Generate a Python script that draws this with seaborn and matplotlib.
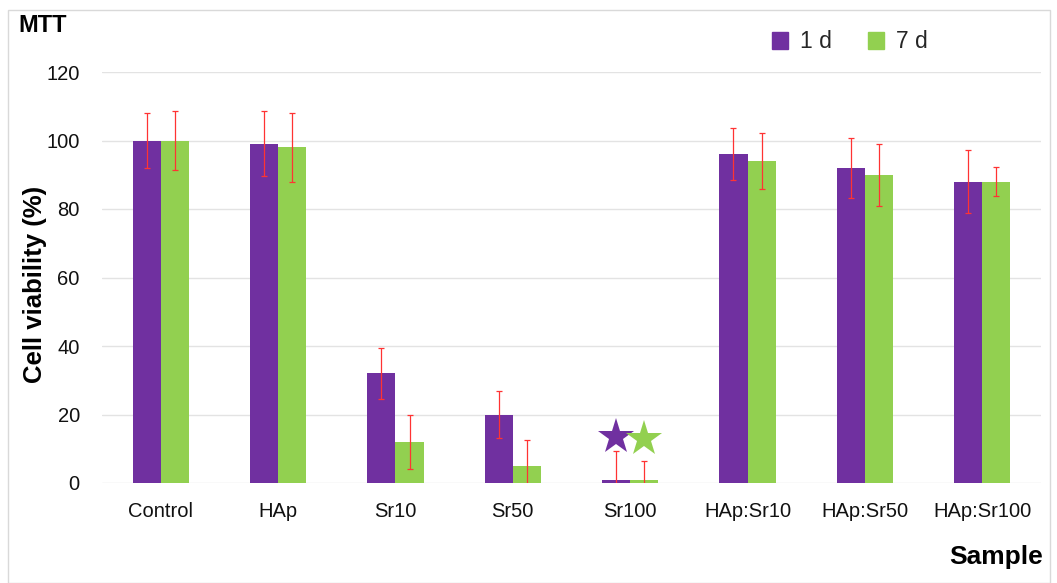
import matplotlib
matplotlib.use("Agg")
import matplotlib.pyplot as plt
import matplotlib.patches as mpatches
import seaborn as sns
import pandas as pd
import numpy as np

# Datos
samples = ["Control", "HAp", "Sr10", "Sr50", "Sr100", "HAp:Sr10", "HAp:Sr50", "HAp:Sr100"]
groups = ["1 d", "7 d"]
viab_1d = [100, 99, 32, 20, 1, 96, 92, 88]
viab_7d = [100, 98, 12, 5, 0.8, 94, 90, 88]
err_1d = [8.0, 9.5, 7.5, 7.0, 8.4, 7.6, 8.7, 9.3]
err_7d = [8.6, 10.0, 8.0, 7.5, 5.6, 8.2, 9.0, 4.3]
star_sample = "Sr100"
star_y = [13.4, 12.8]
colors = ["#7030A0", "#92D050"]

df = pd.DataFrame({
    "Sample": samples * 2,
    "Grupo": [groups[0]] * len(samples) + [groups[1]] * len(samples),
    "Viabilidad": viab_1d + viab_7d,
})

sns.set_style("white")
plt.rcParams["font.family"] = ["Liberation Sans", "DejaVu Sans"]

fig = plt.figure(figsize=(10.57, 5.83), dpi=100)
ax = fig.add_axes([102 / 1057, 1 - 483 / 583, 939 / 1057, 411 / 583])

# Marco exterior claro
fig.patches.append(mpatches.Rectangle((8 / 1057, 0.0), 1042 / 1057, 1 - 10 / 583,
                                      transform=fig.transFigure, fill=False,
                                      edgecolor="#D9D9D9", linewidth=1))

sns.barplot(data=df, x="Sample", y="Viabilidad", hue="Grupo", order=samples,
            hue_order=groups, palette=colors, saturation=1, width=0.48,
            errorbar=None, legend=False, ax=ax, zorder=2, linewidth=0)

# Barras de error
for cont, errs in zip(ax.containers, [err_1d, err_7d]):
    xs = [b.get_x() + b.get_width() / 2 for b in cont]
    hs = [b.get_height() for b in cont]
    ax.errorbar(xs, hs, yerr=errs, fmt="none", ecolor="#FF3333", elinewidth=0.9,
                capsize=2.2, capthick=0.9, zorder=3)

# Estrellas sobre Sr100
i_star = samples.index(star_sample)
for cont, sy, c in zip(ax.containers, star_y, colors):
    b = cont[i_star]
    ax.plot(b.get_x() + b.get_width() / 2, sy, marker="*", color=c,
            markersize=27, markeredgewidth=0, zorder=4, clip_on=False)

ax.set_ylim(0, 120)
ax.set_xlim(-0.5, len(samples) - 0.5)
ax.set_yticks(range(0, 121, 20))
ax.yaxis.grid(True, color="#E3E3E3", linewidth=1)
ax.set_axisbelow(True)
for s in ax.spines.values():
    s.set_visible(False)
ax.tick_params(axis="both", length=0, labelsize=14.5, colors="#111111")
ax.tick_params(axis="x", pad=14)
ax.tick_params(axis="y", pad=16)
ax.set_xlabel("")
ax.set_ylabel("")

fig.text(35 / 1057, 1 - 284 / 583, "Cell viability (%)", rotation=90, fontsize=18.5,
         fontweight="bold", ha="center", va="center", color="black")
fig.text(1043 / 1057, 1 - 557 / 583, "Sample", fontsize=19, fontweight="bold",
         ha="right", va="center", color="black")
fig.text(18 / 1057, 1 - 26 / 583, "MTT", fontsize=17, fontweight="bold",
         ha="left", va="center", color="black")

handles = [mpatches.Patch(color=c, label=g) for c, g in zip(colors, groups)]
fig.legend(handles=handles, loc="center", bbox_to_anchor=(850 / 1057, 1 - 42 / 583),
           ncol=2, frameon=False, fontsize=16.5, handlelength=0.7, handleheight=0.7,
           handletextpad=0.5, columnspacing=1.6)

fig.savefig("out.png", dpi=100)
